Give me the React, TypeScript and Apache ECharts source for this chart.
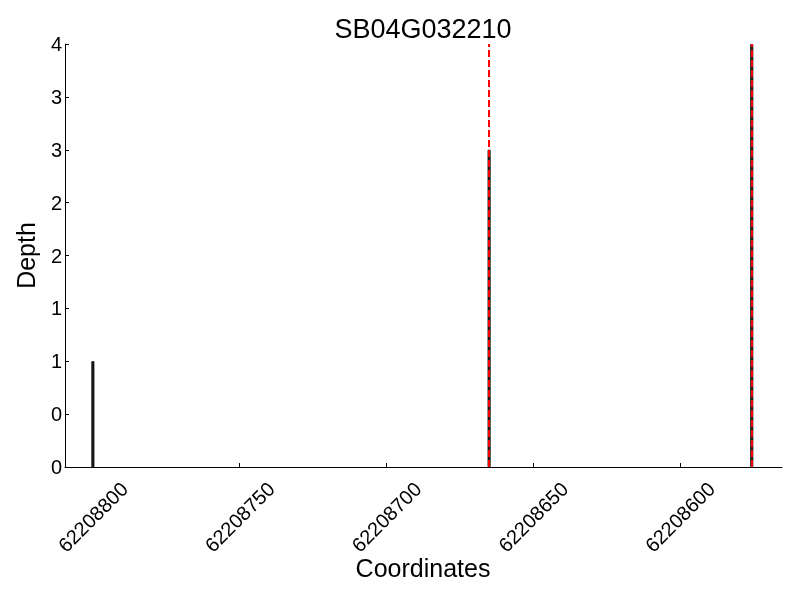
import React, { useEffect, useRef } from "react";
import * as echarts from "echarts";

const title = "SB04G032210";
const xName = "Coordinates";
const yName = "Depth";
const positions = [62208800, 62208665, 62208575.5];
const depths = [1, 3, 4];
const markPositions = [62208665, 62208575.5];
const xTicks = [62208600, 62208650, 62208700, 62208750, 62208800];
const xMin = 62208565.2;
const xMax = 62208809.5;

export default function App() {
  const ref = useRef<HTMLDivElement>(null);
  useEffect(() => {
    const chart = echarts.init(ref.current!, null, { renderer: "svg" });
    const font = "Liberation Sans";
    chart.setOption({
      animation: false,
      textStyle: { fontFamily: font },
      grid: { left: 65, right: 18, top: 44, bottom: 133 },
      graphic: [
        {
          type: "text",
          x: 423,
          y: 29,
          style: {
            text: title,
            fontFamily: font,
            fontSize: 27,
            fill: "#000",
            textAlign: "center",
            textVerticalAlign: "middle",
          },
        },
        {
          type: "text",
          x: 423,
          y: 568,
          style: {
            text: xName,
            fontFamily: font,
            fontSize: 25,
            fill: "#000",
            textAlign: "center",
            textVerticalAlign: "middle",
          },
        },
      ],
      xAxis: {
        type: "value",
        inverse: true,
        min: xMin,
        max: xMax,
        splitLine: { show: false },
        axisLine: { show: true, lineStyle: { color: "#000", width: 1 } },
        axisTick: { show: true, inside: true, length: 4, customValues: xTicks, lineStyle: { color: "#000" } },
        axisLabel: {
          customValues: xTicks,
          rotate: 45,
          align: "center",
          verticalAlign: "middle",
          margin: 50,
          fontSize: 20,
          color: "#000",
          fontFamily: font,
          formatter: (v: number) => String(Math.round(v)),
        },
      },
      yAxis: {
        type: "value",
        min: 0,
        max: 4,
        interval: 0.5,
        name: yName,
        nameLocation: "middle",
        nameGap: 27,
        nameTextStyle: { fontSize: 25, color: "#000", fontFamily: font },
        splitLine: { show: false },
        axisLine: { show: true, lineStyle: { color: "#000", width: 1 } },
        axisTick: { show: true, inside: true, length: 4, lineStyle: { color: "#000" } },
        axisLabel: {
          margin: 3,
          fontSize: 20,
          color: "#000",
          fontFamily: font,
          formatter: (v: number) => String(Math.floor(v)),
        },
      },
      series: [
        {
          type: "bar",
          barWidth: 3,
          data: positions.map((p, i) => [p, depths[i]]),
          itemStyle: { color: "#222", borderColor: "#000", borderWidth: 0.8 },
          markLine: {
            symbol: "none",
            silent: true,
            label: { show: false },
            lineStyle: { color: "#ff0000", type: [7, 3], width: 2 },
            data: markPositions.map((p) => ({ xAxis: p })),
          },
          z: 2,
        },
      ],
    });
    return () => chart.dispose();
  }, []);
  return (
    <div
      ref={ref}
      style={{ position: "fixed", left: 0, top: 0, width: 800, height: 600 }}
    />
  );
}
